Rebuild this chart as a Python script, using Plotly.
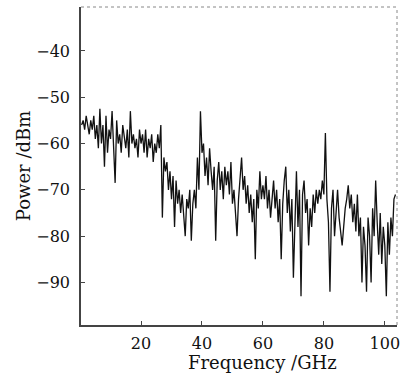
import numpy as np
import plotly.graph_objects as go

# Frequency grid (GHz), 0.5 GHz step
freq_start = 0.5
freq_step = 0.5

power_dbm = [
    # 0.5 - 10
    -56, -55, -57, -54, -56, -58, -55, -57, -54, -59,
    -56, -61, -52.5, -60, -56, -65, -54, -62, -57, -59,
    # 10.5 - 20
    -53, -63, -68.5, -55, -60, -58, -62, -56, -59, -61,
    -57, -63, -53, -60, -58, -61, -59, -63, -57, -60,
    # 20.5 - 30
    -58, -62, -57, -63, -59, -61, -58, -64, -60, -62,
    -58, -61, -56, -76, -63, -66, -64, -70, -66, -72,
    # 30.5 - 40
    -67, -78, -68, -73, -70, -75, -71, -76, -80, -72,
    -74, -70, -81, -73, -70, -74, -63, -70, -53, -62,
    # 40.5 - 50
    -60, -67, -63, -69, -61, -66, -70, -65, -81, -68,
    -64, -70, -66, -72, -65, -69, -66, -71, -64, -73,
    # 50.5 - 60
    -70, -75, -80, -72, -68, -63, -70, -67, -73, -69,
    -75, -71, -77, -72, -85, -70, -74, -66, -72, -69,
    # 60.5 - 70
    -72, -67, -74, -70, -76, -71, -68, -74, -70, -77,
    -72, -85, -73, -68, -65, -75, -70, -79, -72, -89,
    # 70.5 - 80
    -74, -66, -78, -70, -93, -71, -68, -75, -72, -82,
    -74, -78, -71, -75, -70, -73, -70, -72, -68, -71,
    # 80.5 - 90
    -57.7, -72, -77, -92, -74, -70, -80, -74, -70, -76,
    -79, -82, -78, -74, -72, -69, -74, -71, -77, -73,
    # 90.5 - 103.5
    -79, -71, -80, -76, -90, -78, -82, -92, -76, -80,
    -90, -74, -80, -68, -77, -84, -75, -86, -78, -82,
    -93, -77, -84, -76, -80, -72, -71,
]

freq_ghz = [freq_start + i * freq_step for i in range(len(power_dbm))]

x_ticks = [20, 40, 60, 80, 100]
y_ticks = [-40, -50, -60, -70, -80, -90]

font_family = "DejaVu Serif"

fig = go.Figure()
fig.add_trace(go.Scatter(
    x=freq_ghz, y=power_dbm, mode="lines",
    line=dict(color="#111111", width=1.3),
    showlegend=False,
))

fig.update_layout(
    width=401, height=378,
    margin=dict(l=81, r=1, t=7, b=53),
    paper_bgcolor="white", plot_bgcolor="white",
    font=dict(family=font_family, size=16, color="#111"),
    xaxis=dict(
        range=[0.3, 104], tickvals=x_ticks, ticks="inside", ticklen=4,
        tickcolor="#444", showline=True, linecolor="#444", linewidth=1.5,
        showgrid=False, zeroline=False, ticklabelstandoff=3,
        ticklabeloverflow="allow",
    ),
    yaxis=dict(
        range=[-99.2, -30.5], tickvals=y_ticks, ticks="inside", ticklen=4,
        tickcolor="#444", showline=True, linecolor="#444", linewidth=1.5,
        showgrid=False, zeroline=False, ticklabelstandoff=6,
        tickformat="d",
    ),
    annotations=[
        dict(text="Frequency /GHz", xref="paper", yref="paper", x=0.575, y=-0.08,
             xanchor="center", yanchor="top", showarrow=False,
             font=dict(family=font_family, size=18)),
        dict(text="Power /dBm", xref="paper", yref="paper", x=-0.183, y=0.5,
             xanchor="center", yanchor="middle", showarrow=False, textangle=-90,
             font=dict(family=font_family, size=18)),
    ],
    shapes=[
        dict(type="line", xref="paper", yref="paper", x0=0, x1=1, y0=1, y1=1,
             line=dict(color="#888", width=1, dash="dot")),
        dict(type="line", xref="paper", yref="paper", x0=1, x1=1, y0=0, y1=1,
             line=dict(color="#888", width=1, dash="dot")),
    ],
)

fig.write_html("out.html")
